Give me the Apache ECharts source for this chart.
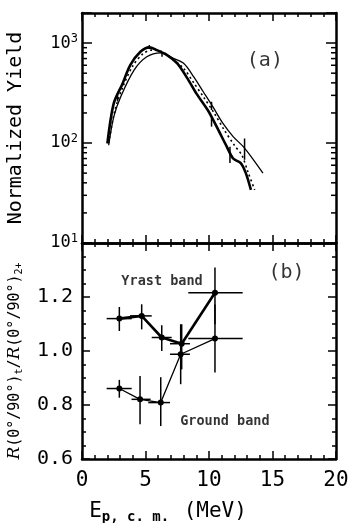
<!DOCTYPE html>
<html><head><meta charset="utf-8">
<script src="https://cdn.jsdelivr.net/npm/echarts@6/dist/echarts.min.js"></script>
<style>html,body{margin:0;padding:0;background:#fff}#c{width:348px;height:523px}</style>
</head><body><div id="c"></div>
<script>
// ---- panel (a): yield curves ----
const thickE = [2.0, 2.5, 3.2, 3.8, 4.6, 5.3, 5.9, 6.7, 7.5, 8.3, 9.0, 9.9, 10.6, 11.4, 11.9, 12.5, 12.9, 13.3];
const thickY = [99, 249, 395, 603, 818, 906, 851, 759, 627, 444, 314, 214, 146, 92, 70, 63, 50, 34];
const thinE = [2.1, 2.5, 3.05, 4.1, 5.1, 6.2, 7.2, 8.0, 8.8, 9.55, 10.3, 11.1, 11.9, 12.7, 13.5, 14.25];
const thinY = [95, 183, 291, 537, 730, 800, 703, 627, 460, 326, 231, 157, 116, 92, 68, 50];
const dotE = [2.1, 2.6, 3.2, 4.0, 4.8, 5.5, 6.3, 7.2, 8.0, 8.8, 9.6, 10.4, 11.2, 12.0, 12.6, 13.1, 13.6];
const dotY = [100, 215, 360, 590, 780, 850, 820, 680, 560, 400, 285, 200, 135, 95, 75, 50, 34];
// small error ticks on the curves
const curveErrE = [2.8, 5.3, 6.3, 10.2, 10.2, 11.65, 12.8];
const curveErrLo = [260, 871, 730, 214, 146, 63, 68];
const curveErrHi = [300, 955, 818, 259, 178, 92, 111];
// log-axis minor tick values
const logMinor = [20, 30, 40, 50, 60, 70, 80, 90, 200, 300, 400, 500, 600, 700, 800, 900];

// ---- panel (b): ratios ----
const yrastE = [2.94, 4.70, 6.28, 7.85, 10.47];
const yrastR = [1.12, 1.13, 1.05, 1.027, 1.216];
const yrastElo = [1.94, 3.78, 5.49, 6.93, 8.37];
const yrastEhi = [3.91, 5.49, 7.06, 8.50, 12.65];
const yrastRlo = [1.074, 1.08, 1.0, 0.932, 1.099];
const yrastRhi = [1.163, 1.173, 1.095, 1.099, 1.309];

const groundE = [2.94, 4.57, 6.2, 7.77, 10.47];
const groundR = [0.861, 0.821, 0.809, 0.988, 1.046];
const groundElo = [1.94, 3.9, 5.22, 6.93, 8.37];
const groundEhi = [3.91, 5.4, 6.93, 8.5, 12.65];
const groundRlo = [0.827, 0.729, 0.722, 0.877, 0.92];
const groundRhi = [0.893, 0.907, 0.903, 1.099, 1.172];

// tick labels
const xTicks = [0, 5, 10, 15, 20];
const rTicks = [0.6, 0.8, 1.0, 1.2];

const BLACK = '#000';
const FONT = 'DejaVu Sans Mono';

function zip(a, b) { return a.map((v, i) => [v, b[i]]); }

const chart = echarts.init(document.getElementById('c'), null, {renderer: 'canvas'});

const axisLineStyle = {color: BLACK, width: 2.5};
function xAxisDef(grid, pos, showLabels) {
  return {
    type: 'value', gridIndex: grid, position: pos, min: 0, max: 20, interval: 5,
    axisLine: {show: true, onZero: false, lineStyle: axisLineStyle},
    axisTick: {show: true, inside: true, length: 8, lineStyle: {color: BLACK, width: 1.5}},
    minorTick: {show: true, splitNumber: 5, length: 4, lineStyle: {color: BLACK, width: 1.5}},
    splitLine: {show: false},
    axisLabel: showLabels ? {show: true, color: BLACK, fontFamily: FONT, fontSize: 21, margin: 11,
      formatter: v => xTicks.indexOf(v) >= 0 ? String(v) : ''} : {show: false}
  };
}

const errRender = function (params, api) {
  const l = api.coord([api.value(2), api.value(1)]);
  const r = api.coord([api.value(3), api.value(1)]);
  const b = api.coord([api.value(0), api.value(4)]);
  const t = api.coord([api.value(0), api.value(5)]);
  const st = {stroke: BLACK, lineWidth: 1.5};
  return {type: 'group', children: [
    {type: 'line', shape: {x1: l[0], y1: l[1], x2: r[0], y2: r[1]}, style: st},
    {type: 'line', shape: {x1: b[0], y1: b[1], x2: t[0], y2: t[1]}, style: st}
  ]};
};

function errData(E, R, Elo, Ehi, Rlo, Rhi) {
  return E.map((e, i) => [e, R[i], Elo[i], Ehi[i], Rlo[i], Rhi[i]]);
}

const option = {
  animation: false,
  backgroundColor: '#fff',
  textStyle: {fontFamily: FONT, color: BLACK},
  grid: [
    {left: 82, right: 12, top: 13, height: 230, outerBoundsMode: 'none', containLabel: false},
    {left: 82, right: 12, top: 243, height: 216, outerBoundsMode: 'none', containLabel: false}
  ],
  xAxis: [
    xAxisDef(0, 'bottom', false),
    xAxisDef(0, 'top', false),
    Object.assign(xAxisDef(1, 'bottom', true), {
      name: '{e|E}{sub|p, c. m.}  {e|(MeV)}', nameLocation: 'middle', nameGap: 41,
      nameTextStyle: {color: BLACK, fontFamily: FONT, padding: [0, 82, 0, 0],
        rich: {
          e: {fontSize: 21, fontFamily: FONT, color: BLACK, lineHeight: 24, verticalAlign: 'middle'},
          sub: {fontSize: 14, fontWeight: 'bold', fontFamily: FONT, color: BLACK, lineHeight: 12, verticalAlign: 'bottom'}
        }}
    }),
    xAxisDef(1, 'top', false)
  ],
  yAxis: [
    {
      type: 'log', gridIndex: 0, position: 'left', min: 10, max: 2000, logBase: 10,
      axisLine: {show: true, onZero: false, lineStyle: axisLineStyle},
      axisTick: {show: true, inside: true, length: 10, lineStyle: {color: BLACK, width: 1.5}},
      splitLine: {show: false},
      axisLabel: {show: true, margin: 4, color: BLACK,
        formatter: function (v) {
          const e = Math.round(Math.log10(v));
          if (Math.abs(Math.pow(10, e) - v) > 1e-6 * v) return '';
          return '{b|10}{s|' + e + '}';
        },
        rich: {
          b: {fontSize: 17, fontFamily: FONT, color: BLACK, lineHeight: 20, verticalAlign: 'middle'},
          s: {fontSize: 12, fontFamily: FONT, color: BLACK, lineHeight: 12, verticalAlign: 'top'}
        }},
      name: 'Normalized Yield', nameLocation: 'middle', nameRotate: 90, nameGap: 56,
      nameTextStyle: {fontSize: 20, fontFamily: FONT, color: BLACK}
    },
    {
      type: 'log', gridIndex: 0, position: 'right', min: 10, max: 2000, logBase: 10,
      axisLine: {show: true, onZero: false, lineStyle: axisLineStyle},
      axisTick: {show: true, inside: true, length: 10, lineStyle: {color: BLACK, width: 1.5}},
      splitLine: {show: false}, axisLabel: {show: false}
    },
    {
      type: 'value', gridIndex: 1, position: 'left', min: 0.6, max: 1.4, interval: 0.2,
      axisLine: {show: true, onZero: false, lineStyle: axisLineStyle},
      axisTick: {show: true, inside: true, length: 8, lineStyle: {color: BLACK, width: 1.5}},
      minorTick: {show: true, splitNumber: 4, length: 4, lineStyle: {color: BLACK, width: 1.5}},
      splitLine: {show: false},
      axisLabel: {show: true, margin: 9, color: BLACK, fontFamily: FONT, fontSize: 20,
        formatter: v => rTicks.some(t => Math.abs(t - v) < 1e-6) ? v.toFixed(1) : ''},
      name: '{r|R}(0°/90°){sub|t}/{r|R}(0°/90°){sub|2+}', nameLocation: 'middle', nameRotate: 90, nameGap: 58,
      nameTextStyle: {fontSize: 15, fontFamily: FONT, color: BLACK, padding: [0, 20, 0, 0],
        rich: {
          r: {fontSize: 17, fontFamily: 'DejaVu Serif', fontStyle: 'italic', color: BLACK, lineHeight: 18, verticalAlign: 'middle'},
          sub: {fontSize: 10, fontFamily: FONT, color: BLACK, lineHeight: 10, verticalAlign: 'bottom'}
        }}
    },
    {
      type: 'value', gridIndex: 1, position: 'right', min: 0.6, max: 1.4, interval: 0.2,
      axisLine: {show: true, onZero: false, lineStyle: axisLineStyle},
      axisTick: {show: true, inside: true, length: 8, lineStyle: {color: BLACK, width: 1.5}},
      minorTick: {show: true, splitNumber: 4, length: 4, lineStyle: {color: BLACK, width: 1.5}},
      splitLine: {show: false}, axisLabel: {show: false}
    }
  ],
  series: [
    {type: 'line', xAxisIndex: 0, yAxisIndex: 0, data: zip(thickE, thickY), smooth: 0.3,
      showSymbol: false, lineStyle: {color: BLACK, width: 2.6}},
    {type: 'line', xAxisIndex: 0, yAxisIndex: 0, data: zip(thinE, thinY), smooth: 0.3,
      showSymbol: false, lineStyle: {color: BLACK, width: 1.3}},
    {type: 'line', xAxisIndex: 0, yAxisIndex: 0, data: zip(dotE, dotY), smooth: 0.3,
      showSymbol: false, lineStyle: {color: BLACK, width: 1.6, type: [2, 3]}},
    {type: 'custom', xAxisIndex: 0, yAxisIndex: 0,
      data: curveErrE.map((e, i) => [e, curveErrLo[i], curveErrHi[i]]),
      renderItem: function (params, api) {
        const b = api.coord([api.value(0), api.value(1)]);
        const t = api.coord([api.value(0), api.value(2)]);
        return {type: 'line', shape: {x1: b[0], y1: b[1], x2: t[0], y2: t[1]}, style: {stroke: BLACK, lineWidth: 1.5}};
      }},
    {type: 'custom', xAxisIndex: 0, yAxisIndex: 0, silent: true,
      data: logMinor.map(v => [0, v]),
      encode: {x: 0, y: 1},
      renderItem: function (params, api) {
        const v = api.value(1);
        const L = api.coord([0, v]);
        const R = api.coord([20, v]);
        const st = {stroke: BLACK, lineWidth: 1.5};
        return {type: 'group', children: [
          {type: 'line', shape: {x1: L[0], y1: L[1], x2: L[0] + 5, y2: L[1]}, style: st},
          {type: 'line', shape: {x1: R[0] - 5, y1: R[1], x2: R[0], y2: R[1]}, style: st}
        ]};
      }},
    {type: 'scatter', xAxisIndex: 0, yAxisIndex: 0, symbolSize: 0, data: [[14.4, 660]],
      label: {show: true, formatter: '(a)', position: 'inside', fontSize: 20, fontFamily: FONT, color: BLACK}},

    // panel b
    {type: 'line', xAxisIndex: 2, yAxisIndex: 2, data: zip(yrastE, yrastR),
      symbol: 'circle', symbolSize: 6, itemStyle: {color: BLACK}, lineStyle: {color: BLACK, width: 2.6}},
    {type: 'custom', xAxisIndex: 2, yAxisIndex: 2, renderItem: errRender,
      data: errData(yrastE, yrastR, yrastElo, yrastEhi, yrastRlo, yrastRhi)},
    {type: 'line', xAxisIndex: 2, yAxisIndex: 2, data: zip(groundE, groundR),
      symbol: 'circle', symbolSize: 6, itemStyle: {color: BLACK}, lineStyle: {color: BLACK, width: 1.3}},
    {type: 'custom', xAxisIndex: 2, yAxisIndex: 2, renderItem: errRender,
      data: errData(groundE, groundR, groundElo, groundEhi, groundRlo, groundRhi)},
    {type: 'scatter', xAxisIndex: 2, yAxisIndex: 2, symbolSize: 0,
      data: [
        {value: [16.1, 1.29], label: {formatter: '(b)', fontSize: 20}},
        {value: [6.3, 1.257], label: {formatter: 'Yrast band', fontSize: 13.5, fontWeight: 'bold'}},
        {value: [11.25, 0.738], label: {formatter: 'Ground band', fontSize: 13.5, fontWeight: 'bold'}}
      ],
      label: {show: true, position: 'inside', fontFamily: FONT, color: BLACK}}
  ]
};
chart.setOption(option);
</script>
</body></html>
